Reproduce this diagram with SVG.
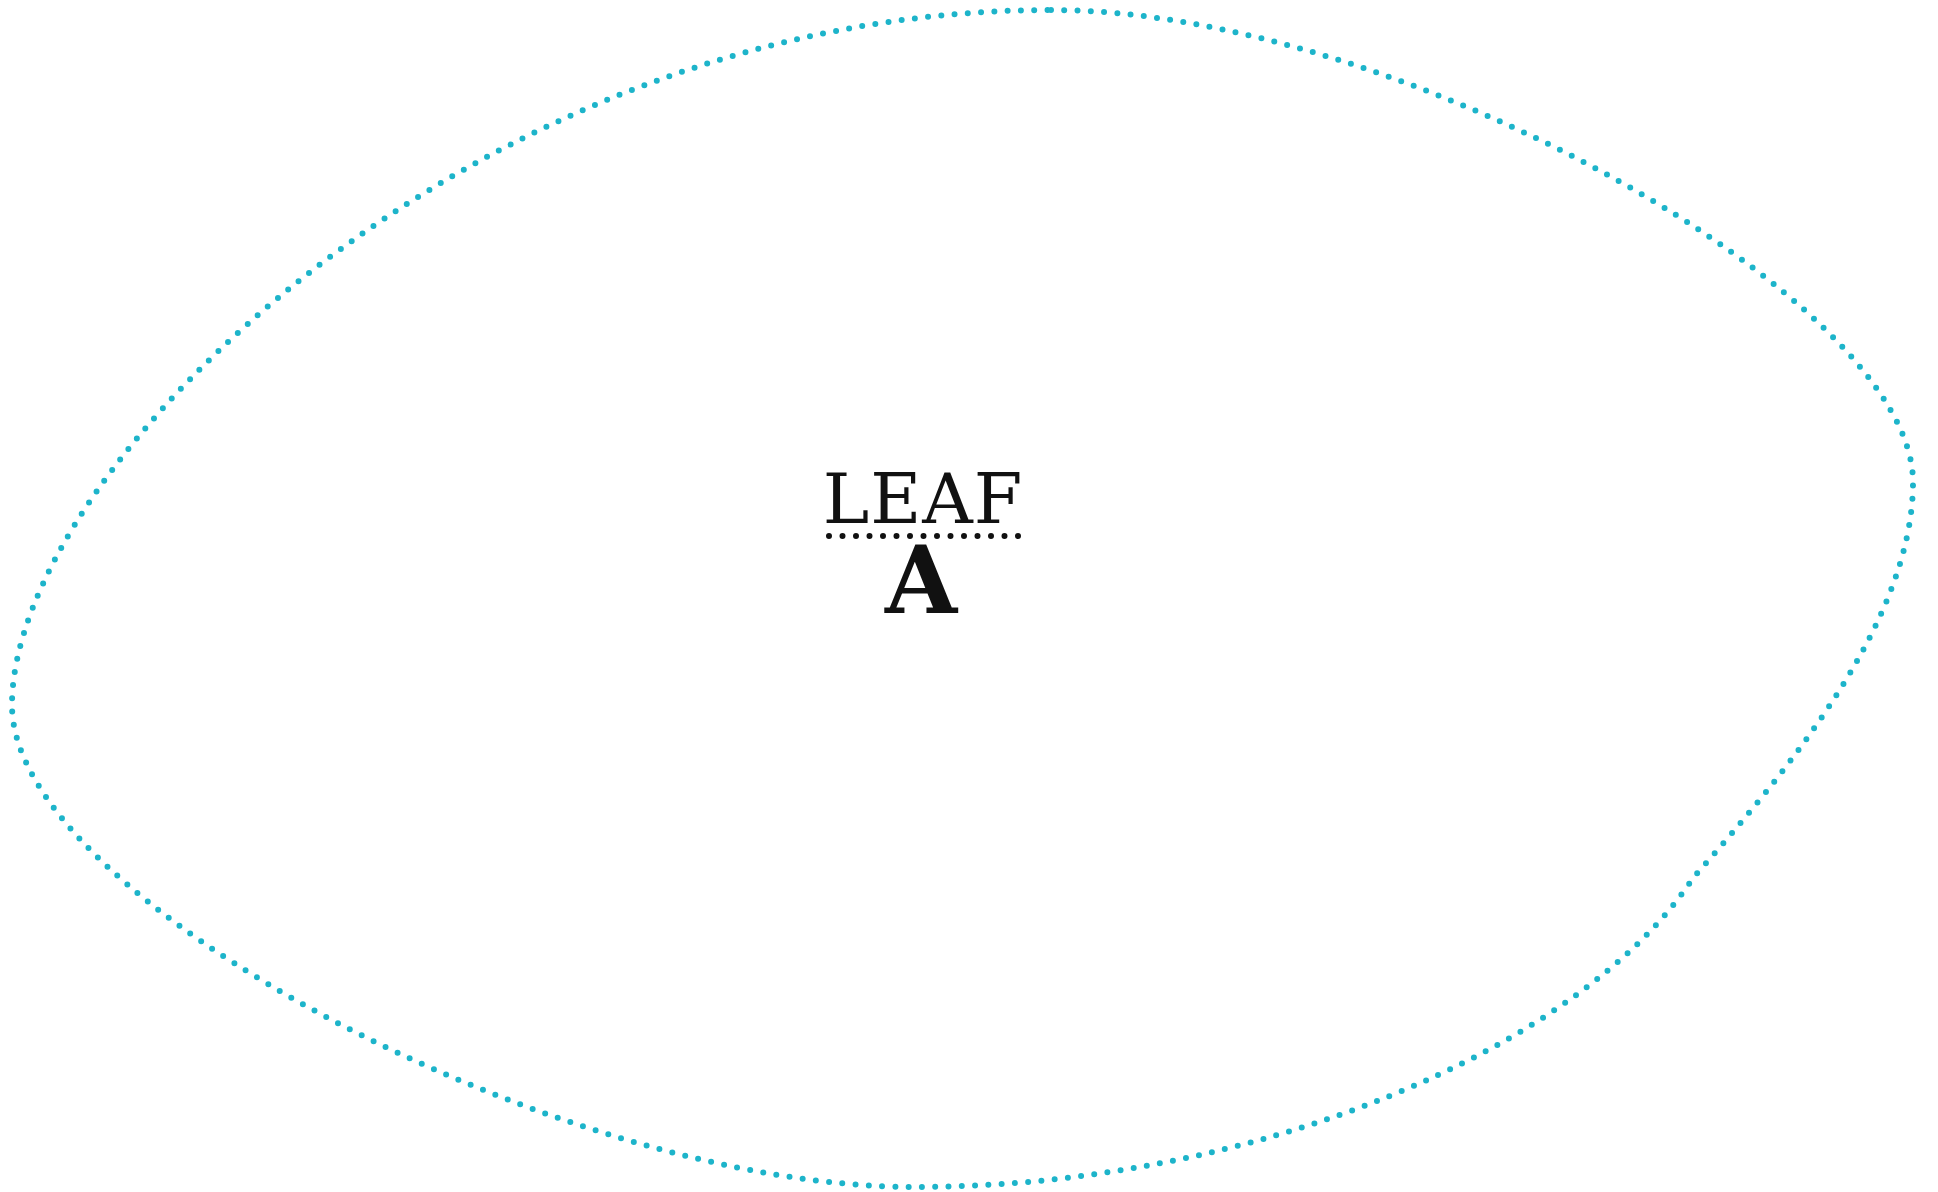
<svg xmlns="http://www.w3.org/2000/svg" width="1938" height="1192" viewBox="0 0 1938 1192">
<style>
.blob{fill:none;stroke:#1DB4CA;stroke-width:6;stroke-linecap:round;stroke-dasharray:0 13.3}
.dots{fill:none;stroke:#111;stroke-width:6;stroke-linecap:round;stroke-dasharray:0 13.5}
.t1{font-family:"DejaVu Serif","Liberation Serif",serif;font-size:70px;fill:#111;text-anchor:middle}
.t2{font-family:"DejaVu Serif","Liberation Serif",serif;font-size:93px;font-weight:bold;fill:#111;text-anchor:middle}
</style>
<rect width="1938" height="1192" fill="#fff"/>
<g id="leaf-a">
<path class="blob" d="M1051 10 C1400 10 1913 300 1913 482 C1913 620 1790 768 1693 878 C1580 1050 1250 1187 915 1187 C560 1187 12 900 12 705 C12 470 470 10 1051 10 Z"/>
<text class="t1" x="923" y="523" letter-spacing="1">LEAF</text>
<path class="dots" d="M829 536 H1020"/>
<text class="t2" x="921" y="613">A</text>
</g>
<g id="connectors"/>
</svg>
